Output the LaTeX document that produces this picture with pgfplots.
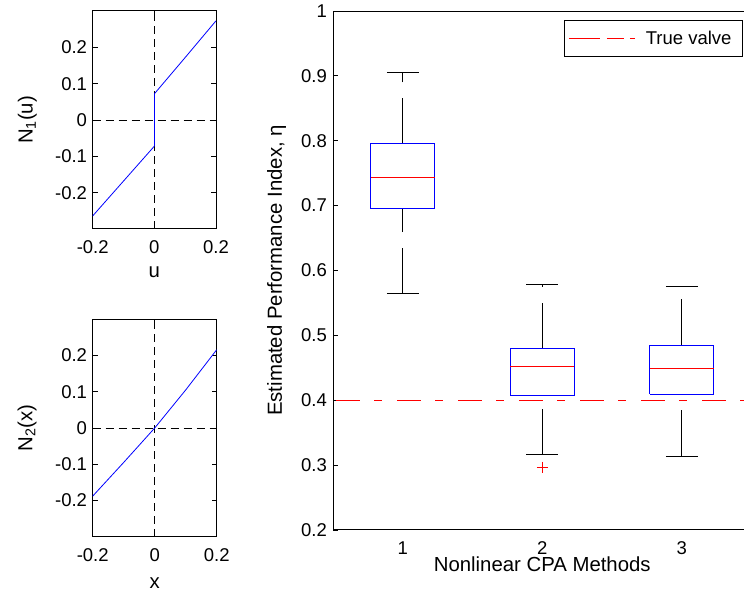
\documentclass[border=0pt]{standalone}
\usepackage{pgfplots}
\pgfplotsset{compat=1.18}
\usepackage{fontspec}
\setmainfont{Liberation Sans}
\newcommand\myfont{\fontsize{18.5bp}{22bp}\selectfont}
\newcommand\labelfont{\fontsize{20.35bp}{24bp}\selectfont}

\pgfplotsset{
  matlab/.style={
    scale only axis,
    anchor=south west,
    font=\myfont,
    /pgf/number format/assume math mode=true,
    axis line style={black, line width=1bp},
    tick style={black, line width=0.8bp},
    major tick length=5bp,
    tick align=inside,
    xticklabel style={anchor=base, inner sep=0pt, yshift=-24.5bp},
    yticklabel style={anchor=east, inner sep=0pt, xshift=-5.5bp},
    xlabel style={anchor=base, inner sep=0pt, font=\labelfont},
    ylabel style={anchor=base, inner sep=0pt, font=\labelfont},
  },
  small panel/.style={
    matlab,
    xmin=-0.2, xmax=0.2, ymin=-0.3, ymax=0.3,
    xtick={-0.2,0,0.2},
    ytick={-0.2,-0.1,0,0.1,0.2},
    tick pos=both,
  },
  zeroline/.style={black, line width=0.8bp, dash pattern=on 8bp off 5bp, forget plot},
  curve/.style={blue, line width=0.8bp, forget plot},
  bx/.style={blue, line width=1bp, forget plot},
  md/.style={red, line width=1bp, forget plot},
  wk/.style={black, line width=1bp, dash pattern=on 45.7bp off 16bp, forget plot},
  cp/.style={black, line width=1bp, forget plot},
}

\begin{document}
\begin{tikzpicture}

% N1(u)
\begin{axis}[small panel,
  at={(92.7bp,363bp)}, width=123.3bp, height=218bp,
  xlabel={u}, ylabel={N\textsubscript{1}(u)},
  xlabel style={at={(axis description cs:0.5,-0.2248)}},
  ylabel style={at={(axis description cs:-0.487,0.5)}},
]
\addplot[zeroline] coordinates {(0,-0.3) (0,0.3)};
\addplot[zeroline] coordinates {(-0.2,0) (0.2,0)};
\addplot[curve] coordinates {(-0.2,-0.264) (-0.1,-0.168) (0,-0.072)};
\addplot[curve] coordinates {(0,-0.072) (0,0.072)};
\addplot[curve] coordinates {(0,0.072) (0.1,0.172) (0.2,0.273)};
\end{axis}

% N2(x)
\begin{axis}[small panel,
  at={(92.7bp,55.3bp)}, width=124bp, height=217.4bp,
  xlabel={x}, ylabel={N\textsubscript{2}(x)},
  xlabel style={at={(axis description cs:0.5,-0.2365)}},
  ylabel style={at={(axis description cs:-0.487,0.5)}},
]
\addplot[zeroline] coordinates {(0,-0.3) (0,0.3)};
\addplot[zeroline] coordinates {(-0.2,0) (0.2,0)};
\addplot[curve] coordinates {(-0.2,-0.188) (-0.1,-0.095) (0,0) (0.1,0.105) (0.2,0.216)};
\end{axis}

% box plots (the right border lies just outside the page, as in the original)
\begin{axis}[matlab,
  at={(333bp,62bp)}, width=418.5bp, height=519bp,
  xmin=0.5, xmax=3.5, ymin=0.2, ymax=1,
  xtick={1,2,3}, xtick style={draw=none},
  ytick={0.2,0.3,0.4,0.5,0.6,0.7,0.8,0.9,1},
  ytick pos=left,
  yticklabel style={xshift=-0.5bp},
  xlabel={Nonlinear CPA Methods},
  ylabel={Estimated Performance Index, η},
  xlabel style={at={(axis description cs:0.5,-0.0791)}},
  ylabel style={at={(axis description cs:-0.1219,0.5)}},
  legend style={at={(axis description cs:0.9797,0.9827)}, anchor=north east,
    draw=black, line width=1bp, fill=white,
    inner xsep=0.5bp, inner ysep=8.4bp,
    nodes={inner xsep=10.5bp, inner ysep=2bp}},
  legend cell align=left,
  legend image code/.code={
    \path (0bp,0bp) -- (69bp,0bp);
    \draw[red, line width=1bp, dash phase=0bp,
      dash pattern=on 24bp off 12bp on 12bp off 100bp]
      (10.5bp,0bp) -- (58.5bp,0bp);},
]
% method 1
\addplot[wk] coordinates {(1,0.795) (1,0.905)};
\addplot[wk] coordinates {(1,0.564) (1,0.695)};
\addplot[cp] coordinates {(0.887,0.905) (1.113,0.905)};
\addplot[cp] coordinates {(0.887,0.564) (1.113,0.564)};
\addplot[bx] coordinates {(0.772,0.695) (1.228,0.695) (1.228,0.795) (0.772,0.795) (0.772,0.695)};
\addplot[md] coordinates {(0.772,0.743) (1.228,0.743)};
% method 2
\addplot[wk] coordinates {(2,0.480) (2,0.578)};
\addplot[wk] coordinates {(2,0.316) (2,0.407)};
\addplot[cp] coordinates {(1.887,0.578) (2.113,0.578)};
\addplot[cp] coordinates {(1.887,0.316) (2.113,0.316)};
\addplot[bx] coordinates {(1.772,0.407) (2.228,0.407) (2.228,0.480) (1.772,0.480) (1.772,0.407)};
\addplot[md] coordinates {(1.772,0.452) (2.228,0.452)};
\addplot[red, only marks, mark=+, mark size=5.5bp, line width=1bp, forget plot]
  coordinates {(2,0.297)};
% method 3
\addplot[wk] coordinates {(3,0.485) (3,0.575)};
\addplot[wk] coordinates {(3,0.314) (3,0.409)};
\addplot[cp] coordinates {(2.887,0.575) (3.113,0.575)};
\addplot[cp] coordinates {(2.887,0.314) (3.113,0.314)};
\addplot[bx] coordinates {(2.772,0.409) (3.228,0.409) (3.228,0.485) (2.772,0.485) (2.772,0.409)};
\addplot[md] coordinates {(2.772,0.449) (3.228,0.449)};
% true value
\addplot[red, line width=1bp, dash pattern=on 24bp off 14bp on 8bp off 15bp, dash phase=58bp]
  coordinates {(0.5,0.4) (3.5,0.4)};
\addlegendentry{True valve}
\end{axis}

\pgfresetboundingbox
\path[use as bounding box] (0,0) rectangle (744bp,592bp);
\end{tikzpicture}
\end{document}
